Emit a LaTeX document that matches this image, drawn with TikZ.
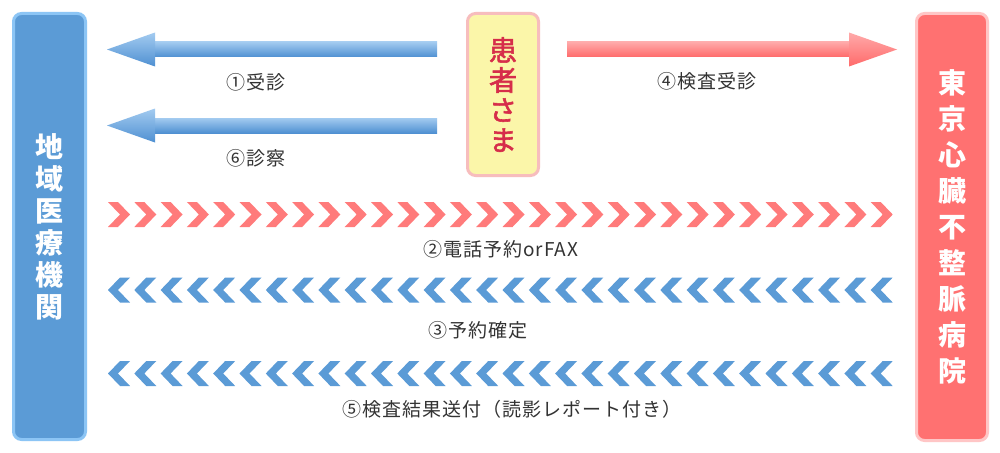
\documentclass[tikz,border=0pt]{standalone}
\usepackage{fontspec}
\setmainfont{Noto Sans CJK JP}
\newfontfamily\lblfont[LetterSpace=5]{Noto Sans CJK JP}
\newfontfamily\medfont[FakeBold=2]{Noto Sans CJK JP}
\usetikzlibrary{calc}
\definecolor{bluefill}{HTML}{5B9BD6}
\definecolor{blueedge}{HTML}{8CC5F5}
\definecolor{redfill}{HTML}{FF7171}
\definecolor{rededge}{HTML}{FFC6C6}
\definecolor{yelfill}{HTML}{FBF6A9}
\definecolor{yeledge}{HTML}{F7BDBD}
\definecolor{ptext}{HTML}{D62D4A}
\definecolor{lbl}{HTML}{333333}
\definecolor{chevred}{HTML}{FF7B7B}
\definecolor{chevblue}{HTML}{5B9BD6}
\definecolor{bluelight}{HTML}{A3CBF0}
\definecolor{bluedark}{HTML}{4F90D2}
\definecolor{redlight}{HTML}{FFAAAA}
\definecolor{reddark}{HTML}{FF6A6A}
\newcommand\mychevright[2]{\fill[chevred] (#1,#2) -- ++(10,0) -- ++(12,12.5) -- ++(-12,12.5) -- ++(-10,0) -- ++(12,-12.5) -- cycle;}
\newcommand\mychevleft[2]{\fill[chevblue] ($(#1,#2)+(22,0)$) -- ++(-10,0) -- ++(-12,12.5) -- ++(12,12.5) -- ++(10,0) -- ++(-12,-12.5) -- cycle;}
\begin{document}
\begin{tikzpicture}[x=1pt,y=-1pt,
 sidebox/.style={rounded corners=8pt, line width=3pt, minimum width=72pt, inner sep=0pt, text=white, align=center},
 lbltext/.style={text=lbl, font=\lblfont\fontsize{19}{21}\selectfont, inner sep=0pt},
]
\useasboundingbox (0,0) rectangle (1000,452);
\fill[white] (0,0) rectangle (1000,452);
% boxes
\node[sidebox, draw=blueedge, fill=bluefill, minimum height=426pt,
  font=\bfseries\fontsize{28}{32}\selectfont] (L) at (49.5,226.5) {地\\域\\医\\療\\機\\関};
\node[sidebox, draw=rededge, fill=redfill, minimum width=71pt, minimum height=427pt,
  font=\bfseries\fontsize{28}{36}\selectfont] (R) at (952,227) {東\\京\\心\\臓\\不\\整\\脈\\病\\院};
\node[sidebox, draw=yeledge, fill=yelfill, minimum width=71pt, minimum height=162pt,
  text=ptext, font=\medfont\fontsize{28}{30}\selectfont] (P) at (503,94.5) {患\\者\\さ\\ま};
% blue arrows (patient -> clinic)
\coordinate (a1s) at (437,49.5);
\coordinate (a1t) at (107,49.5);
\coordinate (a6s) at (437,125.5);
\coordinate (a6t) at (107,125.5);
\foreach \s/\t in {a1s/a1t,a6s/a6t}{
  \shade[top color=bluelight, middle color=bluefill, bottom color=bluedark]
    ($(\t)+(47.5,-7.5)$) rectangle ($(\s)+(0,7.5)$);
  \shade[top color=bluelight, middle color=bluefill, bottom color=bluedark]
    (\t) -- ($(\t)+(48,-17)$) -- ($(\t)+(48,17)$) -- cycle;
}
% red arrow (patient -> hospital)
\coordinate (a4s) at (567,49.5);
\coordinate (a4t) at (897,49.5);
\shade[top color=redlight, middle color=redfill, bottom color=reddark]
  ($(a4s)+(0,-7.5)$) rectangle ($(a4t)+(-47.5,7.5)$);
\shade[top color=redlight, middle color=redfill, bottom color=reddark]
  (a4t) -- ($(a4t)+(-48,-17)$) -- ($(a4t)+(-48,17)$) -- cycle;
% chevron rows
\foreach \i in {0,...,29}{
  \mychevright{108+26.3*\i}{202}
  \mychevleft{108+26.3*\i}{277.5}
  \mychevleft{108+26.3*\i}{361}
}
% labels
\node[lbltext] (l1) at (256,82) {①受診};
\node[lbltext] (l6) at (256,158) {⑥診察};
\node[lbltext] (l4) at (707,81) {④検査受診};
\node[lbltext] (l2) at (501,249) {②電話予約orFAX};
\node[lbltext] (l3) at (478,330) {③予約確定};
\node[lbltext] (l5) at (512,409) {⑤検査結果送付（読影レポート付き）};
\end{tikzpicture}
\end{document}
